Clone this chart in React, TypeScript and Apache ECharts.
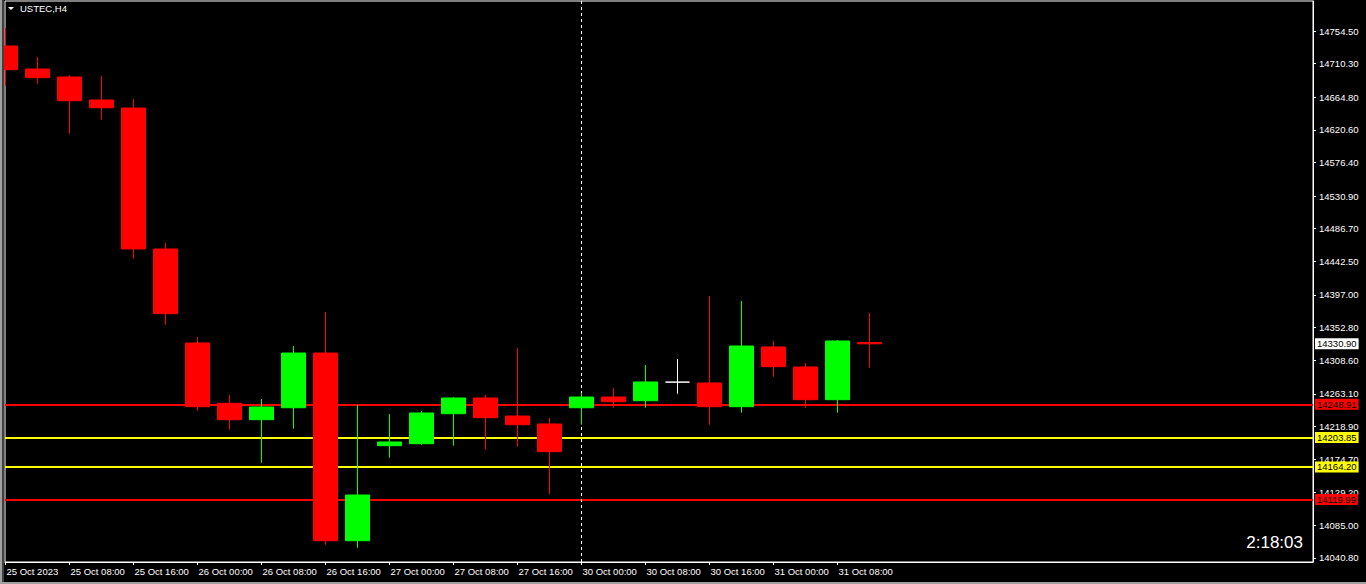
import React, { useEffect, useRef } from "react";
import * as echarts from "echarts";

const chartTitle = "USTEC,H4";
const timerText = "2:18:03";

const candleTimes = [
  "25 Oct 00:00", "25 Oct 04:00", "25 Oct 08:00", "25 Oct 12:00", "25 Oct 16:00", "25 Oct 20:00",
  "26 Oct 00:00", "26 Oct 04:00", "26 Oct 08:00", "26 Oct 12:00", "26 Oct 16:00", "26 Oct 20:00",
  "27 Oct 00:00", "27 Oct 04:00", "27 Oct 08:00", "27 Oct 12:00", "27 Oct 16:00", "27 Oct 20:00",
  "30 Oct 00:00", "30 Oct 04:00", "30 Oct 08:00", "30 Oct 12:00", "30 Oct 16:00", "30 Oct 20:00",
  "31 Oct 00:00", "31 Oct 04:00", "31 Oct 08:00", "31 Oct 12:00",
];
const openPrices = [
  14734.2, 14703.0, 14692.2, 14661.1, 14650.2, 14459.3,
  14332.0, 14250.3, 14228.1, 14244.3, 14318.4, 14064.2,
  14192.9, 14195.6, 14236.2, 14257.5, 14233.1, 14222.3,
  14244.3, 14258.8, 14253.8, 14279.0, 14277.8, 14245.7,
  14326.6, 14299.5, 14255.2, 14332.6,
];
const closePrices = [
  14702.1, 14691.3, 14660.1, 14650.6, 14459.3, 14371.7,
  14245.7, 14228.1, 14245.3, 14318.4, 14064.2, 14126.1,
  14197.9, 14237.2, 14257.5, 14230.8, 14221.3, 14184.8,
  14258.8, 14252.5, 14279.2, 14279.0, 14245.7, 14327.9,
  14299.9, 14255.2, 14334.7, 14330.9,
];
const lowPrices = [
  14680.4, 14683.1, 14615.4, 14634.4, 14446.1, 14356.8,
  14240.3, 14214.6, 14169.9, 14215.9, 14058.8, 14054.7,
  14176.6, 14194.2, 14192.9, 14187.5, 14191.5, 14127.5,
  14221.3, 14244.3, 14244.3, 14263.3, 14221.3, 14237.6,
  14286.3, 14244.3, 14237.6, 14298.5,
];
const highPrices = [
  14758.6, 14719.3, 14694.9, 14693.6, 14662.4, 14467.4,
  14340.1, 14261.5, 14256.1, 14327.9, 14374.0, 14248.0,
  14235.8, 14239.9, 14258.8, 14261.5, 14325.2, 14230.4,
  14264.3, 14271.0, 14302.2, 14310.3, 14395.6, 14388.8,
  14334.7, 14304.9, 14336.0, 14372.6,
];

const yTickValues = [
  14040.8, 14085.0, 14129.2, 14174.7, 14218.9, 14263.1, 14308.6, 14352.8, 14397.0,
  14442.5, 14486.7, 14530.9, 14576.4, 14620.6, 14664.8, 14710.3, 14754.5,
];
const xTickIndices = [0, 2, 4, 6, 8, 10, 12, 14, 16, 18, 20, 22, 24, 26];
const xTickLabels = [
  "25 Oct 2023", "25 Oct 08:00", "25 Oct 16:00", "26 Oct 00:00", "26 Oct 08:00",
  "26 Oct 16:00", "27 Oct 00:00", "27 Oct 08:00", "27 Oct 16:00", "30 Oct 00:00",
  "30 Oct 08:00", "30 Oct 16:00", "31 Oct 00:00", "31 Oct 08:00",
];
const separatorIndex = 18;
const levelValues = [14248.91, 14203.85, 14164.2, 14119.99];
const levelColors = ["#ff0000", "#ffff00", "#ffff00", "#ff0000"];
const currentPrice = 14330.9;

const Y_MIN = 14035.38;
const Y_MAX = 14795.13;
const X_MIN = -0.5 / 32;
const X_MAX = X_MIN + 1308 / 32;
const FONT = "Liberation Sans";

export default function App() {
  const ref = useRef<HTMLDivElement>(null);
  useEffect(() => {
    document.body.style.margin = "0";
    const chart = echarts.init(ref.current!, null, { renderer: "svg" });
    const data = candleTimes.map((_, i) => [i, openPrices[i], closePrices[i], lowPrices[i], highPrices[i]]);
    const labelBase = {
      show: true,
      position: "end",
      distance: 2,
      color: "#000",
      fontSize: 9.5,
      fontFamily: FONT,
      padding: [1, 2, 0, 2],
      lineHeight: 10,
    };
    chart.setOption({
      animation: false,
      backgroundColor: "#000",
      textStyle: { fontFamily: FONT },
      grid: {
        left: 5, right: 53, top: 1, bottom: 22,
        show: true, borderColor: "#fff", borderWidth: 1, backgroundColor: "#000",
      },
      xAxis: {
        type: "value",
        min: X_MIN,
        max: X_MAX,
        axisLine: { show: true, onZero: false, lineStyle: { color: "#fff", width: 1 } },
        axisTick: { show: true, customValues: xTickIndices, length: 3, lineStyle: { color: "#fff" } },
        axisLabel: {
          customValues: xTickIndices,
          formatter: (v: number) => {
            const k = xTickIndices.indexOf(Math.round(v));
            return k >= 0 ? xTickLabels[k] : "";
          },
          color: "#fff",
          fontSize: 9.5,
          fontFamily: FONT,
          align: "left",
          margin: 4,
          padding: [0, 0, 0, 1],
        },
        splitLine: { show: false },
      },
      yAxis: {
        type: "value",
        position: "right",
        min: Y_MIN,
        max: Y_MAX,
        axisLine: { show: true, onZero: false, lineStyle: { color: "#fff", width: 1 } },
        axisTick: { show: true, customValues: yTickValues, length: 3, lineStyle: { color: "#fff" } },
        axisLabel: {
          customValues: yTickValues,
          formatter: (v: number) => v.toFixed(2),
          color: "#fff",
          fontSize: 9.5,
          fontFamily: FONT,
          margin: 6,
        },
        splitLine: { show: false },
      },
      graphic: [
        { type: "rect", shape: { x: 0, y: 0, width: 2, height: 584 }, style: { fill: "#a0a0a0" }, z: 100 },
        { type: "rect", shape: { x: 2, y: 0, width: 2, height: 584 }, style: { fill: "#404040" }, z: 100 },
        { type: "rect", shape: { x: 0, y: 582, width: 1366, height: 2 }, style: { fill: "#a0a0a0" }, z: 100 },
        { type: "polygon", shape: { points: [[8, 7], [14, 7], [11, 10]] }, style: { fill: "#fff" }, z: 100 },
        {
          type: "text", x: 20, y: 8, z: 100,
          style: { text: chartTitle, fill: "#fff", font: `9.5px "${FONT}"`, textVerticalAlign: "middle", verticalAlign: "middle" },
        },
        {
          type: "text", x: 1303, y: 542, z: 100,
          style: { text: timerText, fill: "#fff", font: `17px "${FONT}"`, align: "right", textAlign: "right", verticalAlign: "middle", textVerticalAlign: "middle" },
        },
      ],
      series: [
        {
          type: "line",
          data: [],
          z: 1,
          silent: true,
          markLine: {
            silent: true,
            z: 1,
            symbol: ["none", "none"],
            animation: false,
            data: [
              ...levelValues.map((v, i) => ({
                yAxis: v,
                lineStyle: { color: levelColors[i], width: 2, type: "solid" },
                label: { ...labelBase, formatter: v.toFixed(2), backgroundColor: levelColors[i] },
              })),
              {
                yAxis: currentPrice,
                lineStyle: { color: "rgba(0,0,0,0)", width: 1, type: "solid" },
                label: { ...labelBase, formatter: currentPrice.toFixed(2), backgroundColor: "#fff" },
              },
              {
                xAxis: separatorIndex,
                lineStyle: { color: "#fff", width: 1, type: [3, 3] },
                label: { show: false },
              },
            ],
          },
        },
        {
          type: "candlestick",
          z: 3,
          data,
          barWidth: 24,
          itemStyle: {
            color: "#00ff00",
            color0: "#ff0000",
            borderColor: "#00ff00",
            borderColor0: "#ff0000",
            borderColorDoji: "#ffffff",
            borderWidth: 1,
          },
        },
      ],
    });
    return () => chart.dispose();
  }, []);
  return <div ref={ref} style={{ width: 1366, height: 584, background: "#000" }} />;
}
